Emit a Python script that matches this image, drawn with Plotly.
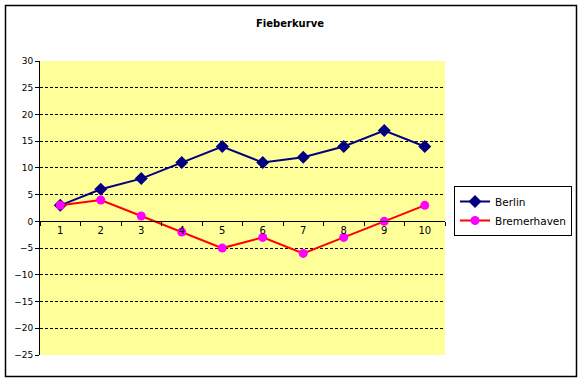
import plotly.graph_objects as go

days = ["1", "2", "3", "4", "5", "6", "7", "8", "9", "10"]
berlin = [3, 6, 8, 11, 14, 11, 12, 14, 17, 14]
bremerhaven = [3, 4, 1, -2, -5, -3, -6, -3, 0, 3]
y_ticks = [30, 25, 20, 15, 10, 5, 0, -5, -10, -15, -20, -25]
title_text = "Fieberkurve"

W, H = 582, 381
L, R, T, B = 40, 445, 61, 355

fig = go.Figure()
fig.add_trace(go.Scatter(
    x=days, y=berlin, name="Berlin", mode="lines+markers",
    line=dict(color="#000080", width=2),
    marker=dict(symbol="diamond", size=10, color="#000080"),
))
fig.add_trace(go.Scatter(
    x=days, y=bremerhaven, name="Bremerhaven", mode="lines+markers",
    line=dict(color="#FF0000", width=2),
    marker=dict(symbol="circle", size=9, color="#FF00FF"),
))

def px_x(p):
    return (p - L) / (R - L)

def px_y(p):
    return (B - p) / (B - T)

fig.add_shape(type="rect", xref="paper", yref="paper",
              x0=px_x(5.5), x1=px_x(576.5), y0=px_y(376.5), y1=px_y(5.5),
              line=dict(color="black", width=1.5), fillcolor="rgba(0,0,0,0)", layer="below")

fig.update_layout(
    template="none",
    width=W, height=H,
    margin=dict(l=L, r=W - R, t=T, b=H - B, pad=0, autoexpand=False),
    paper_bgcolor="white",
    plot_bgcolor="#FFFF99",
    font=dict(family="DejaVu Sans", size=10, color="black"),
    title=dict(text="<b>" + title_text + "</b>", x=290 / W, xanchor="center",
               y=1 - 23 / H, yanchor="middle", font=dict(size=10), automargin=False),
    showlegend=True,
    legend=dict(x=px_x(454), y=px_y(186), xanchor="left", yanchor="top",
                bgcolor="white", bordercolor="black", borderwidth=1,
                font=dict(size=10.5), tracegroupgap=0, itemsizing="trace"),
    xaxis=dict(type="category", categoryorder="array", categoryarray=days,
               range=[-0.5, len(days) - 0.5],
               anchor="free", position=25 / 55, automargin=False,
               showline=True, linecolor="black", linewidth=1,
               ticks="outside", tickson="boundaries", ticklen=4, tickcolor="black",
               showgrid=False, zeroline=False, fixedrange=True,
               tickfont=dict(size=10)),
    yaxis=dict(range=[-25, 30], tickmode="array", tickvals=y_ticks, automargin=False,
               showline=True, linecolor="black", linewidth=1,
               ticks="outside", ticklen=4, tickcolor="black",
               showgrid=True, gridcolor="black", griddash="3px,2px", gridwidth=1,
               zeroline=False, fixedrange=True, tickfont=dict(size=9)),
)

fig.write_html("out.html", config={"displayModeBar": False},
               post_script="document.body.style.margin='0';")
